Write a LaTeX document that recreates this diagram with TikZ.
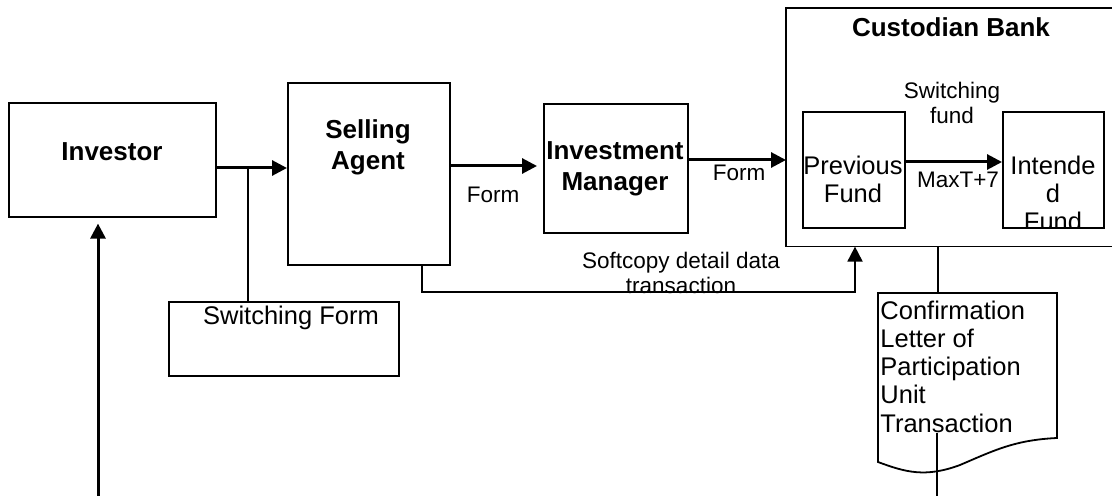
\documentclass[tikz,border=0pt]{standalone}
\usepackage{fontspec}
\setmainfont{Liberation Sans}
\usepackage{tikz}
\usetikzlibrary{arrows.meta}

\tikzset{
	box/.style={draw, line width=0.8pt, anchor=north west, inner sep=0pt},
	headtxt/.style={font=\fontsize{13}{15.75}\selectfont\bfseries, align=center, inner sep=0pt},
	bodytxt/.style={font=\fontsize{12.75}{14}\selectfont, align=center, inner sep=0pt},
	edgetxt/.style={font=\fontsize{11.25}{12.5}\selectfont, align=center, inner sep=0pt},
	arr/.style={-{Triangle[length=7.5pt,width=7.5pt]}, line width=1.5pt},
	link/.style={line width=0.9pt},
}

\begin{document}
\begin{tikzpicture}[x=0.5pt,y=-0.5pt]
		\useasboundingbox (0,0) rectangle (1112,496);
		\clip (0,0) rectangle (1112,496);
		%
		\node[box, minimum width=103.5pt, minimum height=57pt] (inv) at (8,102) {};
		\node[box, minimum width=81pt, minimum height=91pt] (sa) at (287,82) {};
		\node[box, minimum width=115pt, minimum height=37pt] (sf) at (168,301) {};
		\node[box, minimum width=72pt, minimum height=64.5pt] (im) at (543,103) {};
		\node[box, draw=none, minimum width=185pt, minimum height=118.5pt] (cb) at (786,8) {};
		\draw[line width=0.8pt] (cb.north east) -- (cb.north west) -- (cb.south west) -- (cb.south east);
		\node[box, minimum width=51pt, minimum height=58pt] (pf) at (802,111) {};
		\node[box, minimum width=50.5pt, minimum height=58pt] (ifd) at (1002,111) {};
		% document shape
		\draw[link] (878,293) -- (1057,293) -- (1057,438)
			.. controls (1015,440) and (995,450) .. (960,465)
			.. controls (925,478) and (905,472) .. (878,462) -- cycle;
		%
		\node[headtxt] (invname) at (112,152) {Investor};
		\node[headtxt] (saname) at (368,147.5) {Selling\\Agent};
		\node[headtxt] (imname) at (615,169) {Investment\\Manager};
		\node[headtxt] (cbname) at (951,27) {Custodian Bank};
		\node[bodytxt] (sfname) at (291,318) {Switching Form};
		\node[bodytxt] (pfname) at (853,179) {Previous\\Fund};
		\begin{scope}
			\clip (1002,111) rectangle (1103,227);
			\node[bodytxt] (ifname) at (1053,193.5) {Intende\\d\\Fund};
		\end{scope}
		\node[bodytxt, align=left, anchor=west, font=\fontsize{12.75}{14.1}\selectfont] (clop) at (880,366.5)
			{Confirmation\\Letter of\\Participation\\Unit\\Transaction};
		% labels
		\node[edgetxt] (form1) at (493,195) {Form};
		\node[edgetxt] (form2) at (739,173) {Form};
		\node[edgetxt] (swf) at (952,102.5) {Switching\\fund};
		\node[edgetxt] (maxt) at (958,180) {MaxT+7};
		\node[edgetxt] (soft) at (681,272.5) {Softcopy detail data\\transaction};
		%
		\coordinate (rowA) at (0,168);
		\coordinate (rowB) at (0,166);
		\coordinate (rowC) at (0,160);
		\coordinate (rowD) at (0,162);
		\coordinate (rowE) at (0,292);
		\coordinate (brk) at (248,168);
		\coordinate (scdrop) at (422,0);
		\coordinate (scrise) at (855,0);
		\coordinate (invfeed) at (98,496);
		\coordinate (doctop) at (938,293);
		\coordinate (doctail) at (937,433);
		\coordinate (docend) at (937,496);
		%
		\path[arr]
		% horizontal arrows
		(inv.east |- rowA) edge (sa.west |- rowA)
		(sa.east |- rowB) edge[shorten >=3pt] (im.west |- rowB)
		(im.east |- rowC) edge (cb.west |- rowC)
		(pf.east |- rowD) edge (ifd.west |- rowD)
		% vertical arrows
		(invfeed) edge[shorten >=3pt] (invfeed |- inv.south);
		%
		\draw[arr, line width=0.9pt] (sa.south -| scdrop) |- (scrise |- rowE) -- (scrise |- cb.south);
		\draw[link] (brk) -- (brk |- sf.north);
		\draw[link] (cb.south -| doctop) -- (doctop);
		\draw[link] (doctail) -- (docend);
	\end{tikzpicture}
\end{document}
